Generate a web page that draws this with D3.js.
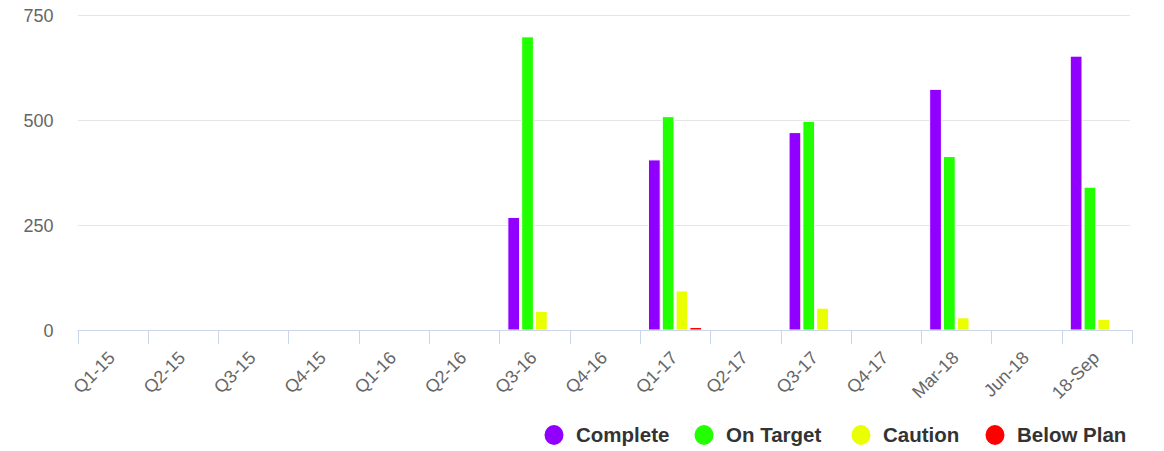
<!DOCTYPE html>
<html><head><meta charset="utf-8">
<script src="https://cdn.jsdelivr.net/npm/d3@7"></script>
<style>body{margin:0;background:#fff}svg{display:block;font-family:"Liberation Sans",Arial,sans-serif}</style>
</head><body><svg id="c" width="1164" height="451"></svg>
<script>
const categories = ["Q1-15","Q2-15","Q3-15","Q4-15","Q1-16","Q2-16","Q3-16","Q4-16","Q1-17","Q2-17","Q3-17","Q4-17","Mar-18","Jun-18","18-Sep"];
const seriesNames = ["Complete","On Target","Caution","Below Plan"];
const colors = ["#9100ff","#22ff00","#eaff00","#ff0000"];
const complete  = [0,0,0,0,0,0,268,0,405,0,470,0,573,0,652];
const onTarget  = [0,0,0,0,0,0,698,0,508,0,497,0,413,0,340];
const caution   = [0,0,0,0,0,0,44,0,93,0,52,0,29,0,25];
const belowPlan = [0,0,0,0,0,0,0,0,6,0,0,0,0,0,0];
const yTicks = [0,250,500,750];
const seriesData = [complete,onTarget,caution,belowPlan];

(function(){
const svg = d3.select("#c");
const pLeft = 77.5, pRight = 1132, pTop = 15, pBottom = 330;
const x0 = d3.scaleBand().domain(categories).range([pLeft,pRight]).padding(0);
const x1 = d3.scaleBand().domain(seriesNames).range([0,x0.bandwidth()]).paddingInner(0.15).paddingOuter(0.62);
const y = d3.scaleLinear().domain([0,750]).range([pBottom,pTop]);

svg.append("g").selectAll("line").data(yTicks.filter(d=>d>0)).join("line")
  .attr("x1",78).attr("x2",1130).attr("y1",d=>Math.round(y(d))+0.5).attr("y2",d=>Math.round(y(d))+0.5)
  .attr("stroke","#e6e6e6").attr("stroke-width",1);
svg.append("g").selectAll("text").data(yTicks).join("text")
  .attr("x",53.5).attr("y",d=>y(d)+1).attr("dy","0.35em").attr("text-anchor","end")
  .attr("font-size",18).attr("fill","#666").text(d=>d);

const g = svg.append("g");
categories.forEach((c,i)=>{
  seriesData.forEach((arr,s)=>{
    const v = arr[i];
    if(!v) return;
    g.append("rect").attr("x",x0(c)+x1(seriesNames[s])).attr("y",y(v))
      .attr("width",x1.bandwidth()).attr("height",pBottom-y(v))
      .attr("fill",colors[s]).attr("stroke","#fff").attr("stroke-width",1);
  });
});

const xa = svg.append("g").attr("transform",`translate(0,${pBottom})`);
xa.append("line").attr("x1",pLeft).attr("x2",pRight).attr("y1",0.5).attr("y2",0.5).attr("stroke","#ccd6eb");
const bounds = categories.map(c=>x0(c)).concat([pRight]);
xa.selectAll("line.t").data(bounds).join("line").attr("class","t")
  .attr("x1",d=>Math.round(d)+0.5).attr("x2",d=>Math.round(d)+0.5).attr("y1",0).attr("y2",14).attr("stroke","#ccd6eb");
xa.selectAll("text").data(categories).join("text")
  .attr("transform",d=>`translate(${x0(d)+x0.bandwidth()/2+3.5},${29}) rotate(-45)`)
  .attr("text-anchor","end").attr("font-size",18).attr("fill","#666").text(d=>d);

const lx = [554,704,861,995];
const lg = svg.append("g");
seriesNames.forEach((n,i)=>{
  lg.append("ellipse").attr("cx",lx[i]).attr("cy",435).attr("rx",9.5).attr("ry",10).attr("fill",colors[i]);
  lg.append("text").attr("x",lx[i]+22).attr("y",435).attr("dy","0.35em").attr("font-size",20.5).attr("font-weight","bold").attr("fill","#333").text(n);
});
})();
</script></body></html>
